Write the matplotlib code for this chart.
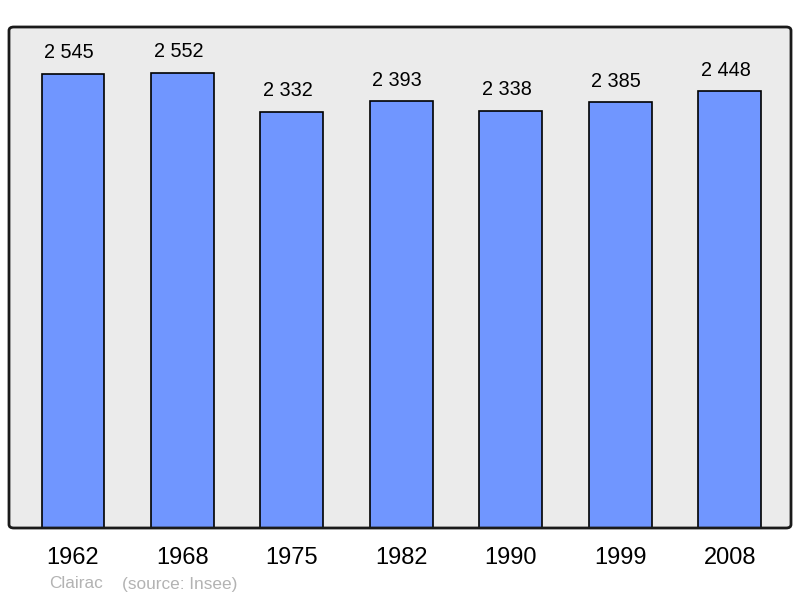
import matplotlib
matplotlib.use("Agg")
import matplotlib.pyplot as plt
from matplotlib.patches import FancyBboxPatch

years = ["1962", "1968", "1975", "1982", "1990", "1999", "2008"]
population = [2545, 2552, 2332, 2393, 2338, 2385, 2448]
value_labels = ["2 545", "2 552", "2 332", "2 393", "2 338", "2 385", "2 448"]

plt.rcParams['font.family'] = ['Liberation Sans', 'DejaVu Sans']

W, H = 800, 598
fig = plt.figure(figsize=(W/100, H/100), dpi=100)
ax = fig.add_axes([9/W, (H-528)/H, 782/W, 501/H])
ax.set_facecolor('none')
ax.set_zorder(2)

box = ((9/W, (H-528)/H), 782/W, 501/H)
bg = FancyBboxPatch(*box, boxstyle="round,pad=0,rounding_size=0.006",
                    transform=fig.transFigure, facecolor='#EBEBEB',
                    edgecolor='none', zorder=0)
edge = FancyBboxPatch(*box, boxstyle="round,pad=0,rounding_size=0.006",
                      transform=fig.transFigure, facecolor='none',
                      edgecolor='#1a1a1a', linewidth=2, zorder=3)
fig.patches.extend([bg, edge])

x = list(range(len(years)))
ax.bar(x, population, width=0.575, color='#7096FF', edgecolor='black',
       linewidth=1.2, zorder=2)
for xi, v, lab in zip(x, population, value_labels):
    ax.annotate(lab, (xi, v), xytext=(-4, 21), textcoords='offset pixels',
                ha='center', va='center', fontsize=14.3, color='black')

ax.set_xlim(-0.585, 6.56)
ax.set_ylim(0, 2808)
for s in ax.spines.values():
    s.set_visible(False)
ax.set_yticks([])
ax.set_xticks(x)
ax.set_xticklabels(years, fontsize=17)
ax.tick_params(axis='x', length=0, pad=14)

fig.text(49/W, 1-584/H, "Clairac", color='#b3b3b3', fontsize=12.4, va='center', ha='left')
fig.text(122/W, 1-584/H, "(source: Insee)", color='#b3b3b3', fontsize=12.4, va='center', ha='left')

fig.savefig("out.png", dpi=100)
